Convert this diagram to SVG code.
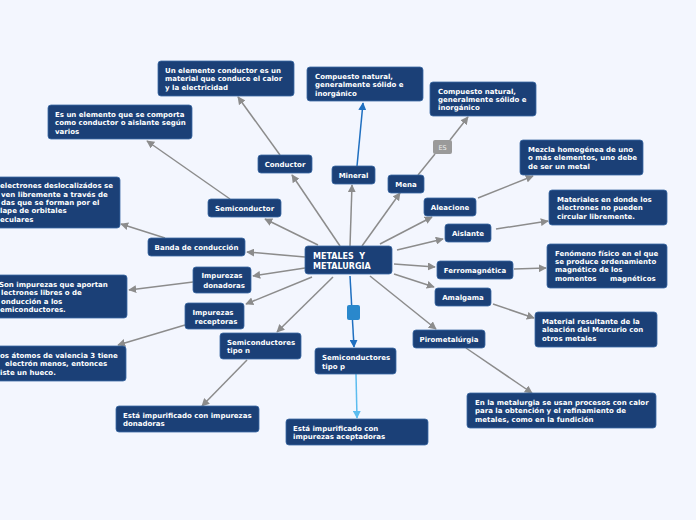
<svg xmlns="http://www.w3.org/2000/svg" width="696" height="520" viewBox="0 0 696 520">
<defs>
<style>
.bx{fill:#1b4077;stroke:#3a6aa5;stroke-width:0.8}
.t{font-family:"DejaVu Sans",Verdana,sans-serif;font-weight:bold;font-size:7px;fill:#ffffff}
.n{font-family:"DejaVu Sans",Verdana,sans-serif;font-weight:bold;font-size:7px;fill:#ffffff;text-anchor:middle}
.c{fill:none;stroke:#8c8c8c;stroke-width:1.5}
.cb{fill:none;stroke:#1f6fc0;stroke-width:1.5}
.cl{fill:none;stroke:#5bbcef;stroke-width:1.5}
</style>
<marker id="ag" viewBox="0 0 10 10" refX="9" refY="5" markerWidth="8" markerHeight="8" markerUnits="userSpaceOnUse" orient="auto"><path d="M0,0 L10,5 L0,10 z" fill="#8c8c8c"/></marker>
<marker id="ab" viewBox="0 0 10 10" refX="9" refY="5" markerWidth="8" markerHeight="8" markerUnits="userSpaceOnUse" orient="auto"><path d="M0,0 L10,5 L0,10 z" fill="#1f6fc0"/></marker>
<marker id="al" viewBox="0 0 10 10" refX="9" refY="5" markerWidth="8" markerHeight="8" markerUnits="userSpaceOnUse" orient="auto"><path d="M0,0 L10,5 L0,10 z" fill="#5bbcef"/></marker>
</defs>
<rect x="0" y="0" width="696" height="520" fill="#f3f6fe"/>
<g id="connectors">
<line class="c" x1="340" y1="246" x2="292" y2="175" marker-end="url(#ag)"/>
<line class="c" x1="350" y1="246" x2="352" y2="185" marker-end="url(#ag)"/>
<line class="c" x1="362" y1="246" x2="400" y2="193" marker-end="url(#ag)"/>
<line class="c" x1="318" y1="245" x2="265" y2="219" marker-end="url(#ag)"/>
<line class="c" x1="305" y1="257" x2="247" y2="252" marker-end="url(#ag)"/>
<line class="c" x1="305" y1="268" x2="253" y2="276" marker-end="url(#ag)"/>
<line class="c" x1="312" y1="277" x2="246" y2="304" marker-end="url(#ag)"/>
<line class="c" x1="333" y1="277" x2="277" y2="332" marker-end="url(#ag)"/>
<line class="cb" x1="350" y1="276" x2="354" y2="347" marker-end="url(#ab)"/>
<rect x="347" y="305" width="13" height="15" rx="2" fill="#2a88cc"/>
<line class="c" x1="370" y1="276" x2="436" y2="329" marker-end="url(#ag)"/>
<line class="c" x1="394" y1="264" x2="435" y2="267" marker-end="url(#ag)"/>
<line class="c" x1="394" y1="274" x2="434" y2="287" marker-end="url(#ag)"/>
<line class="c" x1="397" y1="250" x2="443" y2="239" marker-end="url(#ag)"/>
<line class="c" x1="380" y1="244" x2="432" y2="217" marker-end="url(#ag)"/>
<line class="c" x1="280" y1="155" x2="238" y2="97" marker-end="url(#ag)"/>
<line class="c" x1="230" y1="199" x2="147" y2="141" marker-end="url(#ag)"/>
<line class="cb" x1="357" y1="166" x2="363" y2="103" marker-end="url(#ab)"/>
<line class="c" x1="418" y1="175" x2="435" y2="154"/>
<line class="c" x1="450" y1="140" x2="468" y2="117" marker-end="url(#ag)"/>
<line class="c" x1="165" y1="238" x2="121" y2="224" marker-end="url(#ag)"/>
<line class="c" x1="193" y1="282" x2="129" y2="290" marker-end="url(#ag)"/>
<line class="c" x1="185" y1="325" x2="118" y2="345" marker-end="url(#ag)"/>
<line class="c" x1="247" y1="360" x2="202" y2="406" marker-end="url(#ag)"/>
<line class="cl" x1="356" y1="374" x2="357" y2="418" marker-end="url(#al)"/>
<line class="c" x1="478" y1="198" x2="533" y2="176" marker-end="url(#ag)"/>
<line class="c" x1="496" y1="229" x2="548" y2="221" marker-end="url(#ag)"/>
<line class="c" x1="514" y1="269" x2="546" y2="268" marker-end="url(#ag)"/>
<line class="c" x1="493" y1="304" x2="534" y2="318" marker-end="url(#ag)"/>
<line class="c" x1="466" y1="348" x2="532" y2="393" marker-end="url(#ag)"/>
<g id="es-label"><rect x="433" y="140" width="19" height="14" rx="2" fill="#9a9a9a"/><text x="442.5" y="150" font-family="DejaVu Sans,sans-serif" font-size="6.5" fill="#eeeeee" text-anchor="middle">ES</text></g>
</g>
<g id="center"><rect class="bx" x="305" y="246" width="87" height="28" rx="3"/><text class="t" style="font-size:8px" x="313" y="259" xml:space="preserve">METALES  Y</text><text class="t" style="font-size:8px" x="313" y="269">METALURGIA</text></g>
<g id="conductor"><rect class="bx" x="258" y="155" width="54" height="18" rx="3"/><text class="n" x="285" y="167">Conductor</text></g>
<g id="mineral"><rect class="bx" x="332" y="166" width="43" height="18" rx="3"/><text class="n" x="353.5" y="178">Mineral</text></g>
<g id="mena"><rect class="bx" x="388" y="175" width="36" height="18" rx="3"/><text class="n" x="406" y="187">Mena</text></g>
<g id="semiconductor"><rect class="bx" x="208" y="199" width="73" height="18" rx="3"/><text class="n" x="244.5" y="211">Semiconductor</text></g>
<g id="banda"><rect class="bx" x="148" y="238" width="97" height="18" rx="3"/><text class="n" x="196.5" y="250">Banda de conducción</text></g>
<g id="imp-donadoras"><rect class="bx" x="193" y="267" width="58" height="26" rx="3"/><text class="n" x="222" y="278">Impurezas</text><text class="n" x="224" y="288">donadoras</text></g>
<g id="imp-receptoras"><rect class="bx" x="185" y="303" width="59" height="26" rx="3"/><text class="n" x="213" y="315">Impurezas</text><text class="n" x="216" y="324">receptoras</text></g>
<g id="semi-n"><rect class="bx" x="220" y="333" width="81" height="26" rx="3"/><text class="t" x="227" y="345">Semiconductores</text><text class="t" x="227" y="353">tipo n</text></g>
<g id="semi-p"><rect class="bx" x="315" y="348" width="81" height="26" rx="3"/><text class="t" x="322" y="360">Semiconductores</text><text class="t" x="322" y="369">tipo p</text></g>
<g id="aleacione"><rect class="bx" x="424" y="198" width="52" height="18" rx="3"/><text class="n" x="450" y="210">Aleacione</text></g>
<g id="aislante"><rect class="bx" x="445" y="224" width="46" height="18" rx="3"/><text class="n" x="468" y="236">Aislante</text></g>
<g id="ferromagnetica"><rect class="bx" x="437" y="261" width="76" height="18" rx="3"/><text class="n" x="475" y="273">Ferromagnética</text></g>
<g id="amalgama"><rect class="bx" x="435" y="288" width="56" height="18" rx="3"/><text class="n" x="463" y="300">Amalgama</text></g>
<g id="pirometalurgia"><rect class="bx" x="413" y="330" width="72" height="18" rx="3"/><text class="n" x="449" y="342">Pirometalúrgia</text></g>
<g id="leaf-conductor"><rect class="bx" x="158" y="61" width="136" height="35" rx="3"/><text class="t" x="165" y="73">Un elemento conductor es un</text><text class="t" x="165" y="81">material que conduce el calor</text><text class="t" x="165" y="90">y la electricidad</text></g>
<g id="leaf-semiconductor"><rect class="bx" x="48" y="105" width="144" height="34" rx="3"/><text class="t" x="55" y="117">Es un elemento que se comporta</text><text class="t" x="55" y="125">como conductor o aislante según</text><text class="t" x="55" y="134">varios</text></g>
<g id="leaf-mineral"><rect class="bx" x="307" y="67" width="116" height="34" rx="3"/><text class="t" x="315" y="79">Compuesto natural,</text><text class="t" x="315" y="87">generalmente sólido e</text><text class="t" x="315" y="96">inorgánico</text></g>
<g id="leaf-mena"><rect class="bx" x="430" y="82" width="106" height="34" rx="3"/><text class="t" x="438" y="94">Compuesto natural,</text><text class="t" x="438" y="102">generalmente sólido e</text><text class="t" x="438" y="110">inorgánico</text></g>
<g id="leaf-banda"><rect class="bx" x="-6" y="177" width="126" height="51" rx="3"/><text class="t" x="0" y="188">electrones deslocalizádos se</text><text class="t" x="1" y="197">ven libremente a través de</text><text class="t" x="1" y="205">das que se forman por el</text><text class="t" x="0" y="213">lape de orbitales</text><text class="t" x="0" y="222">eculares</text></g>
<g id="leaf-donadoras"><rect class="bx" x="-6" y="275" width="133" height="43" rx="3"/><text class="t" x="-1" y="287">Son impurezas que aportan</text><text class="t" x="1" y="295">lectrones libres o de</text><text class="t" x="1" y="304">onducción a los</text><text class="t" x="0" y="312">emiconductores.</text></g>
<g id="leaf-receptoras"><rect class="bx" x="-6" y="346" width="132" height="35" rx="3"/><text class="t" x="0" y="358">os átomos de valencia 3 tiene</text><text class="t" x="5" y="366">electrón menos, entonces</text><text class="t" x="0" y="375">iste un hueco.</text></g>
<g id="leaf-semi-n"><rect class="bx" x="116" y="406" width="143" height="26" rx="3"/><text class="t" x="123" y="418">Está impurificado con impurezas</text><text class="t" x="123" y="426">donadoras</text></g>
<g id="leaf-semi-p"><rect class="bx" x="286" y="419" width="142" height="26" rx="3"/><text class="t" x="293" y="431">Está impurificado con</text><text class="t" x="293" y="439">impurezas aceptadoras</text></g>
<g id="leaf-aleacione"><rect class="bx" x="520" y="140" width="123" height="35" rx="3"/><text class="t" x="528" y="152">Mezcla homogénea de uno</text><text class="t" x="528" y="160">o más elementos, uno debe</text><text class="t" x="528" y="169">de ser un metal</text></g>
<g id="leaf-aislante"><rect class="bx" x="549" y="190" width="118" height="35" rx="3"/><text class="t" x="557" y="202">Materiales en donde los</text><text class="t" x="557" y="210">electrones no pueden</text><text class="t" x="557" y="219">circular libremente.</text></g>
<g id="leaf-ferro"><rect class="bx" x="547" y="244" width="120" height="44" rx="3"/><text class="t" x="555" y="256">Fenómeno físico en el que</text><text class="t" x="555" y="264">se produce ordenamiento</text><text class="t" x="555" y="272">magnético de los</text><text class="t" x="555" y="281">momentos</text><text class="t" x="610" y="281">magnéticos</text></g>
<g id="leaf-amalgama"><rect class="bx" x="535" y="312" width="122" height="35" rx="3"/><text class="t" x="542" y="324">Material resultante de la</text><text class="t" x="542" y="332">aleación del Mercurio con</text><text class="t" x="542" y="341">otros metales</text></g>
<g id="leaf-piro"><rect class="bx" x="467" y="393" width="189" height="35" rx="3"/><text class="t" x="475" y="405">En la metalurgia se usan procesos con calor</text><text class="t" x="475" y="413">para la obtención y el refinamiento de</text><text class="t" x="475" y="422">metales, como en la fundición</text></g>
</svg>
